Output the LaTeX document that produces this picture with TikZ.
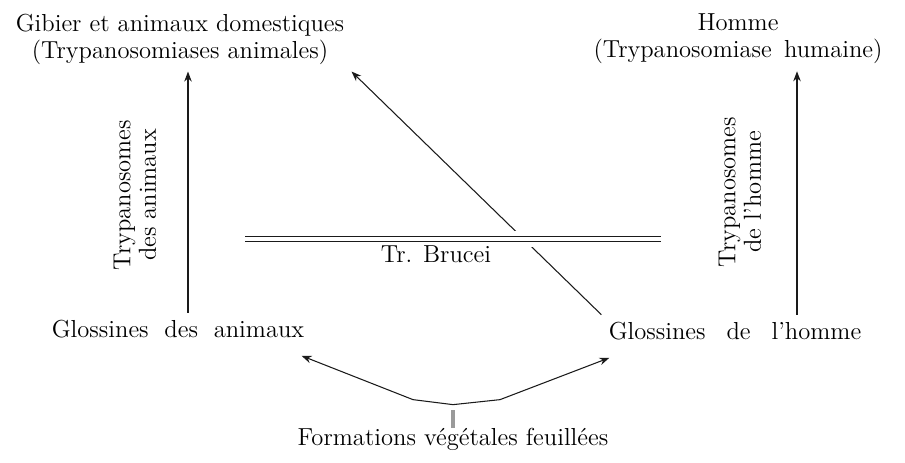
\documentclass[tikz,border=0pt]{standalone}
\usepackage{xcolor}
\usetikzlibrary{arrows.meta,positioning}
\definecolor{inkline}{HTML}{1A1A1A}
\definecolor{hatchgray}{HTML}{9A9A9A}
\newcommand{\wordgap}[1]{\spaceskip=#1\relax}
\tikzset{
  txt/.style={
    font=\fontsize{14}{15.3}\selectfont,
    align=center,
    text=black,
    inner sep=4pt
  },
  spaced/.style={
    font={\fontsize{14}{15.3}\selectfont\wordgap{#1}}
  },
  sidetxt/.style={
    txt,
    rotate=90,
    font=\fontsize{14}{14.5}\selectfont
  },
  arrow/.style={
    -{Stealth[length=2mm,width=1.5mm]},
    line width=0.6pt,
    draw=inkline
  },
  gapband/.style={
    draw=white,
    line width=3.2mm
  },
  barrier/.style={
    draw=inkline,
    double,
    double distance=0.9mm,
    line width=0.45pt
  },
  hatch/.style={
    fill=hatchgray,
    minimum width=0.7mm,
    minimum height=3.6mm,
    inner sep=0pt
  }
}
\begin{document}
\begin{tikzpicture}[x=0.2mm, y=-0.2mm]
\useasboundingbox (0,0) rectangle (905,463);

% hotes
\node[txt] (gibier) at (180,39) {Gibier et animaux domestiques\\(Trypanosomiases animales)};
\node[txt, spaced=0.5em] (homme) at (738,39) {Homme\\(Trypanosomiase humaine)};

% vecteurs
\node[txt, spaced=0.64em] (glanim) at (178,329) {Glossines des animaux};
\node[txt, spaced=0.85em] (glhom) at (735,331) {Glossines de l'homme};

\node[sidetxt] (tranim) at (135,195) {Trypanosomes\\des animaux};
\node[sidetxt] (trhom) at (740,192) {Trypanosomes\\de l'homme};

% formations vegetales
\node[hatch] (veg) at (453,419) {};
\node[txt] (formations) at (453,439) {Formations végétales feuillées};

% barriere
\coordinate (bl) at (245,239);
\coordinate (br) at (661,239);

\coordinate (lcol) at (188,0);
\coordinate (rcol) at (797,0);

\draw[arrow] (glanim.north -| lcol) -- (gibier.south -| lcol);
\draw[arrow] (glhom.north -| rcol) -- (homme.south -| rcol);
\draw[arrow] (glhom.north west) -- (gibier.south east);
\draw[gapband] (bl) -- (br);
\draw[barrier] (bl) -- (br);
\node[txt] (brucei) at (436,254) {Tr. Brucei};
\draw[arrow] ([yshift=1mm]veg.north) -- ++(-40,-5) -- ([xshift=-2mm,yshift=-2.1mm]glanim.south east);
\draw[arrow] ([yshift=1mm]veg.north) -- ++(47,-5) -- ([xshift=1.6mm,yshift=-2.1mm]glhom.south west);

\end{tikzpicture}
\end{document}
